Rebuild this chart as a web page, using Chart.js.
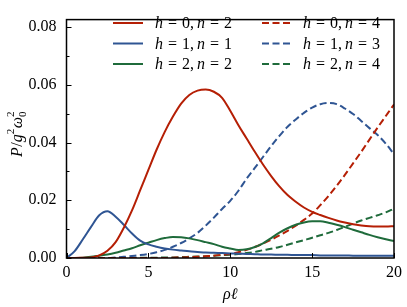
<!DOCTYPE html>
<html><head><meta charset="utf-8">
<script src="https://cdn.jsdelivr.net/npm/chart.js@4"></script>
<style>html,body{margin:0;padding:0;background:#fff}</style>
</head><body>
<canvas id="c" width="407" height="307"></canvas>
<script>
// x values (rho*l)
const rho = [0,0.5,1,1.5,2,2.5,3,3.5,4,4.5,5,5.5,6,6.5,7,7.5,8,8.5,9,9.5,10,10.5,11,11.5,12,12.5,13,13.5,14,14.5,15,15.5,16,16.5,17,17.5,18,18.5,19,19.5,20];
// h=0, n=2
const h0n2 = [0,0,0.0001,0.0002,0.0009,0.0025,0.0055,0.0105,0.0165,0.0235,0.0305,0.0375,0.0437,0.049,0.0535,0.0565,0.058,0.0584,0.0576,0.0555,0.051,0.046,0.0414,0.0368,0.0324,0.0284,0.0248,0.0218,0.0195,0.0175,0.016,0.0149,0.0139,0.013,0.0123,0.0117,0.0113,0.011,0.0109,0.0109,0.011];
// h=1, n=1
const h1n1 = [0,0.0024,0.0065,0.0108,0.0148,0.0162,0.0143,0.0115,0.0085,0.006,0.0047,0.0039,0.0033,0.0029,0.0026,0.0023,0.0021,0.0019,0.0018,0.0017,0.0016,0.0015,0.0014,0.0013,0.0012,0.0012,0.0011,0.0011,0.001,0.001,0.001,0.0009,0.0009,0.0009,0.0009,0.0008,0.0008,0.0008,0.0008,0.0008,0.0008];
// h=2, n=2
const h2n2 = [0,0,0.0001,0.0004,0.0008,0.0012,0.0018,0.0026,0.0034,0.0044,0.0053,0.0062,0.0069,0.0073,0.0072,0.0068,0.0062,0.0055,0.0048,0.0039,0.0033,0.0028,0.003,0.0038,0.0051,0.0069,0.0088,0.0103,0.0115,0.0123,0.0127,0.0127,0.0122,0.0115,0.0107,0.0098,0.0089,0.008,0.0072,0.0065,0.0059];
// h=0, n=4
const h0n4 = [0,0,0,0,0,0,0,0,0,0,0,0,0,0.0001,0.0002,0.0003,0.0004,0.0006,0.0008,0.0011,0.0014,0.002,0.0028,0.0038,0.005,0.0063,0.0078,0.0094,0.0112,0.0132,0.0154,0.0183,0.0215,0.025,0.0288,0.0328,0.0368,0.041,0.0452,0.0492,0.0532];
// h=1, n=3
const h1n3 = [0,0,0,0,0,0,0.0002,0.0004,0.0007,0.001,0.0014,0.002,0.0028,0.0039,0.0052,0.0068,0.0087,0.0112,0.014,0.017,0.0198,0.0233,0.0275,0.0312,0.035,0.0388,0.0423,0.0455,0.048,0.0503,0.0521,0.0533,0.0537,0.0533,0.0518,0.0499,0.0475,0.045,0.0426,0.0396,0.036];
// h=2, n=4
const h2n4 = [0,0,0,0,0,0,0,0,0,0.0001,0.0001,0.0001,0.0002,0.0002,0.0003,0.0004,0.0005,0.0006,0.0008,0.001,0.0011,0.0014,0.0017,0.0021,0.0027,0.0032,0.0038,0.0046,0.0054,0.0062,0.007,0.0079,0.0087,0.0097,0.0108,0.0119,0.013,0.0139,0.0148,0.0158,0.0171];

const xTicks = [0,5,10,15,20];
const yTicks = [0,0.02,0.04,0.06,0.08];
const yMinorTicks = [0.01,0.03,0.05,0.07];

const RED = '#b51f05', BLUE = '#2f5593', GREEN = '#1f6b3b';
const FONT = "'Liberation Serif', 'Times New Roman', serif";

const series = [
  {h:'0', n:'2', data:h0n2, color:RED, dash:[]},
  {h:'1', n:'1', data:h1n1, color:BLUE, dash:[]},
  {h:'2', n:'2', data:h2n2, color:GREEN, dash:[]},
  {h:'0', n:'4', data:h0n4, color:RED, dash:[7,3.5]},
  {h:'1', n:'3', data:h1n3, color:BLUE, dash:[7,3.5]},
  {h:'2', n:'4', data:h2n4, color:GREEN, dash:[7,3.5]},
];

const decor = {
  id:'decor',
  afterDraw(chart){
    const ctx = chart.ctx, a = chart.chartArea;
    const xs = chart.scales.x, ys = chart.scales.y;
    ctx.save();
    // frame
    ctx.strokeStyle = '#000'; ctx.lineWidth = 1.5; ctx.setLineDash([]);
    ctx.strokeRect(a.left, a.top, a.right - a.left, a.bottom - a.top);
    // inward ticks
    ctx.lineWidth = 1;
    ctx.beginPath();
    yTicks.forEach(v => { const y = Math.round(ys.getPixelForValue(v)) + 0.5; ctx.moveTo(a.left, y); ctx.lineTo(a.left + 5, y); });
    yMinorTicks.forEach(v => { const y = Math.round(ys.getPixelForValue(v)) + 0.5; ctx.moveTo(a.left, y); ctx.lineTo(a.left + 3, y); });
    xTicks.forEach(v => { const x = Math.round(xs.getPixelForValue(v)) + 0.5; ctx.moveTo(x, a.bottom); ctx.lineTo(x, a.bottom - 5); });
    ctx.stroke();

    // legend
    const it = "italic 16px " + FONT, rm = "16px " + FONT;
    const rows = [23, 43.5, 64];
    const cols = [{lx:113, tx:155}, {lx:262, tx:303}];
    series.forEach((s, i) => {
      const c = cols[Math.floor(i / 3)], y = rows[i % 3];
      ctx.strokeStyle = s.color; ctx.lineWidth = 2; ctx.setLineDash(s.dash);
      ctx.beginPath(); ctx.moveTo(c.lx, y); ctx.lineTo(c.lx + 30, y); ctx.stroke();
      ctx.setLineDash([]);
      ctx.fillStyle = '#000'; ctx.textBaseline = 'alphabetic'; ctx.textAlign = 'left';
      let x = c.tx; const by = y + 5;
      const seg = (t, f, gap) => { ctx.font = f; ctx.fillText(t, x, by); x += ctx.measureText(t).width + gap; };
      seg('h', it, 5); seg('=', rm, 5); seg('0'.replace('0', s.h) + ',', rm, 3);
      seg('n', it, 5); seg('=', rm, 5); seg(s.n, rm, 0);
    });

    // y title P/g^2 ω_0^2
    ctx.save();
    ctx.translate(22, 157); ctx.rotate(-Math.PI / 2);
    ctx.fillStyle = '#000'; ctx.textBaseline = 'alphabetic';
    let x = 0;
    const put = (t, f, dy, adv) => { ctx.font = f; ctx.fillText(t, x, dy); const w = ctx.measureText(t).width; if (adv) x += w; return w; };
    const sm = "11px " + FONT;
    put('P', it, 0, true); x += 0.5;
    put('/', rm, 0, true);
    put('g', it, 0, true);
    put('2', sm, -8, true); x += 0.5;
    put('ω', it, 0, true);
    put('2', sm, -8, false);
    put('0', sm, 4, true);
    ctx.restore();

    // x title ρℓ
    ctx.font = it; ctx.textAlign = 'center'; ctx.fillStyle = '#000';
    ctx.fillText('ρℓ', (a.left + a.right) / 2, 299);
    ctx.restore();
  }
};

new Chart(document.getElementById('c'), {
  type: 'line',
  data: {
    datasets: series.map(s => ({
      label: 'h = ' + s.h + ', n = ' + s.n,
      data: rho.map((x, i) => ({x: x, y: s.data[i]})),
      borderColor: s.color, borderWidth: 2, borderDash: s.dash,
      pointRadius: 0, fill: false, cubicInterpolationMode: 'monotone'
    }))
  },
  options: {
    responsive: false, animation: false,
    layout: {padding: {left: 0, top: 4, right: 12, bottom: 0}},
    plugins: {legend: {display: false}, tooltip: {enabled: false}},
    scales: {
      x: {
        type: 'linear', min: 0, max: 20,
        afterFit: s => { s.height = 49; },
        afterBuildTicks: s => { s.ticks = xTicks.map(v => ({value: v})); },
        grid: {display: false, drawTicks: false}, border: {display: false},
        ticks: {padding: 5, color: '#000', font: {family: FONT, size: 16}, maxRotation: 0, callback: v => String(v)}
      },
      y: {
        type: 'linear', min: 0, max: 0.0826,
        afterFit: s => { s.width = 66.5; },
        afterBuildTicks: s => { s.ticks = yTicks.map(v => ({value: v})); },
        grid: {display: false, drawTicks: false}, border: {display: false},
        ticks: {padding: 10, color: '#000', font: {family: FONT, size: 16}, callback: v => v.toFixed(2)}
      }
    }
  },
  plugins: [decor]
});
</script>
</body></html>
